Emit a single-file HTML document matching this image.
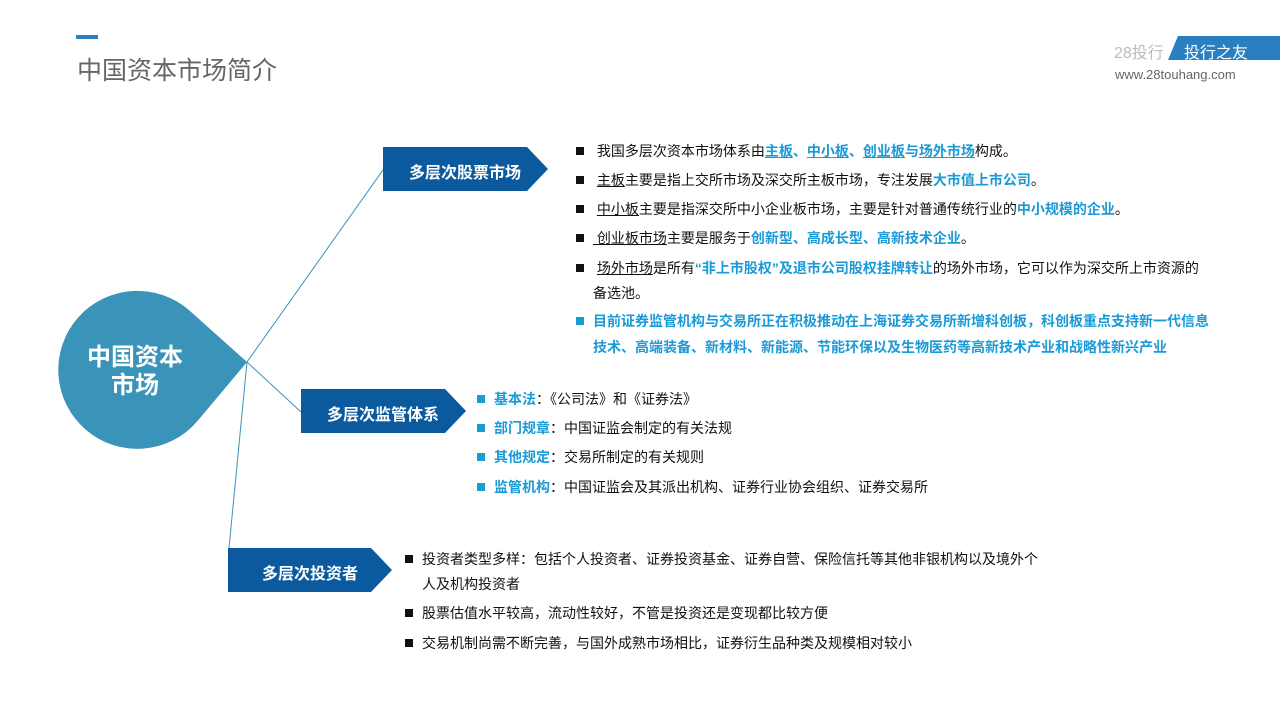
<!DOCTYPE html>
<html><head><meta charset="utf-8"><style>
body{margin:0;width:1280px;height:720px;background:#fff;position:relative;overflow:hidden;font-family:"Liberation Sans","Noto Sans CJK SC",sans-serif;}
.t{position:absolute;font-size:14px;color:#111;white-space:nowrap;line-height:16px;}
.b{color:#1a9ad6;font-weight:bold;}
.u{text-decoration:underline;}
.sq{display:inline-block;width:8px;height:8px;background:#111;margin-right:9px;vertical-align:1px;}
.sqb{display:inline-block;width:8px;height:8px;background:#1a9ad6;margin-right:9px;vertical-align:1px;}
.lbl{position:absolute;color:#fff;font-weight:bold;font-size:16px;white-space:nowrap;}
</style></head><body>
<div style="position:absolute;left:76px;top:35px;width:22px;height:4px;background:#2a7fc0"></div>
<div style="position:absolute;left:77px;top:51px;font-size:25px;color:#666;">中国资本市场简介</div>
<div style="position:absolute;left:1114px;top:39px;font-size:16px;color:#bbb;">28投行</div>
<svg style="position:absolute;left:0;top:0" width="1280" height="720">
<polygon points="1178,36 1280,36 1280,60 1168,60" fill="#2a7fc0"/>
<line x1="247" y1="362" x2="383" y2="170" stroke="#3a93b9" stroke-width="1"/>
<line x1="247" y1="362" x2="301" y2="412" stroke="#3a93b9" stroke-width="1"/>
<line x1="247" y1="362" x2="229" y2="548" stroke="#3a93b9" stroke-width="1"/>
<path d="M247,362 L190,311 A79,79 0 1 0 197.5,421 Z" fill="#3a93b9"/>
<polygon points="383,147 527,147 548,169 527,191 383,191" fill="#0b5a9e"/>
<polygon points="301,389 445,389 466,411 445,433 301,433" fill="#0b5a9e"/>
<polygon points="228,548 371,548 392,570 371,592 228,592" fill="#0b5a9e"/>
</svg>
<div style="position:absolute;left:1184px;top:39px;font-size:16px;color:#fff;">投行之友</div>
<div style="position:absolute;left:1115px;top:67px;font-size:13px;color:#666;">www.28touhang.com</div>
<div style="position:absolute;left:80px;top:344px;width:110px;text-align:center;color:#fff;font-weight:bold;font-size:24px;line-height:28px;">中国资本<br>市场</div>
<div class="lbl" style="left:409px;top:159px;">多层次股票市场</div>
<div class="lbl" style="left:327px;top:401px;">多层次监管体系</div>
<div class="lbl" style="left:262px;top:560px;">多层次投资者</div>

<div class="t" style="left:576px;top:143px;"><span class="sq"></span> 我国多层次资本市场体系由<span class="b u">主板</span><span class="b">、</span><span class="b u">中小板</span><span class="b">、</span><span class="b u">创业板</span><span class="b">与</span><span class="b u">场外市场</span>构成。</div>
<div class="t" style="left:576px;top:172px;"><span class="sq"></span> <span class="u">主板</span>主要是指上交所市场及深交所主板市场，专注发展<span class="b">大市值上市公司</span>。</div>
<div class="t" style="left:576px;top:201px;"><span class="sq"></span> <span class="u">中小板</span>主要是指深交所中小企业板市场，主要是针对普通传统行业的<span class="b">中小规模的企业</span>。</div>
<div class="t" style="left:576px;top:230px;"><span class="sq"></span><span class="u"> 创业板市场</span>主要是服务于<span class="b">创新型、高成长型、高新技术企业</span>。</div>
<div class="t" style="left:576px;top:260px;"><span class="sq"></span> <span class="u">场外市场</span>是所有<span class="b">“非上市股权”及退市公司股权挂牌转让</span>的场外市场，它可以作为深交所上市资源的</div>
<div class="t" style="left:593px;top:285px;">备选池。</div>
<div class="t b" style="left:576px;top:313px;"><span class="sqb"></span>目前证券监管机构与交易所正在积极推动在上海证券交易所新增科创板，科创板重点支持新一代信息</div>
<div class="t b" style="left:593px;top:339px;">技术、高端装备、新材料、新能源、节能环保以及生物医药等高新技术产业和战略性新兴产业</div>

<div class="t" style="left:477px;top:391px;"><span class="sqb"></span><span class="b">基本法</span>：《公司法》和《证券法》</div>
<div class="t" style="left:477px;top:420px;"><span class="sqb"></span><span class="b">部门规章</span>：中国证监会制定的有关法规</div>
<div class="t" style="left:477px;top:449px;"><span class="sqb"></span><span class="b">其他规定</span>：交易所制定的有关规则</div>
<div class="t" style="left:477px;top:479px;"><span class="sqb"></span><span class="b">监管机构</span>：中国证监会及其派出机构、证券行业协会组织、证券交易所</div>

<div class="t" style="left:405px;top:551px;"><span class="sq"></span>投资者类型多样：包括个人投资者、证券投资基金、证券自营、保险信托等其他非银机构以及境外个</div>
<div class="t" style="left:422px;top:576px;">人及机构投资者</div>
<div class="t" style="left:405px;top:605px;"><span class="sq"></span>股票估值水平较高，流动性较好，不管是投资还是变现都比较方便</div>
<div class="t" style="left:405px;top:635px;"><span class="sq"></span>交易机制尚需不断完善，与国外成熟市场相比，证券衍生品种类及规模相对较小</div>
</body></html>
